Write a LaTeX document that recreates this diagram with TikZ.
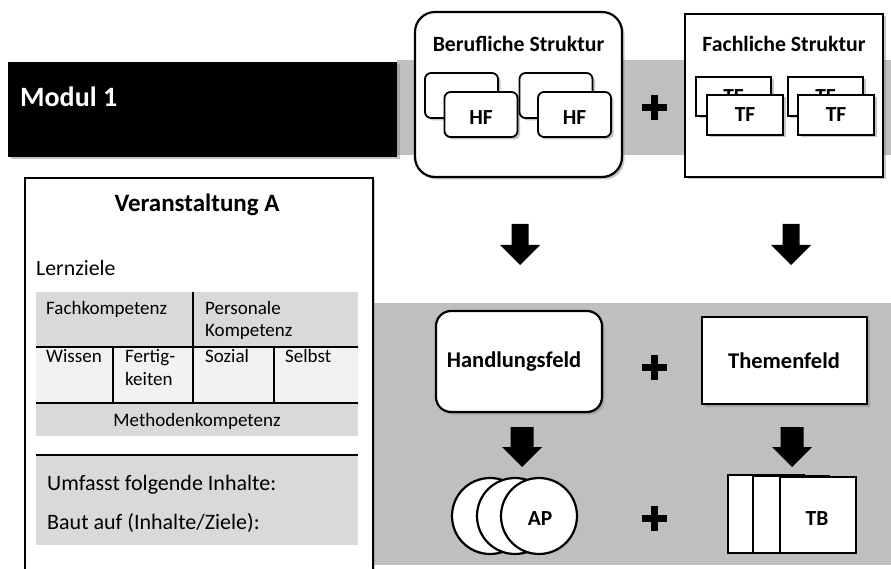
\documentclass[tikz,border=0pt]{standalone}
\usepackage{fontspec}
\setmainfont{Carlito}
\usetikzlibrary{shadows}
\definecolor{bandgray}{HTML}{BFBFBF}
\definecolor{cellgray}{HTML}{D9D9D9}
\definecolor{celllight}{HTML}{F2F2F2}
% plus sign at a coordinate
\newcommand{\plusat}[1]{%
  \draw[line width=7pt] ([xshift=-12.5pt]#1) -- ([xshift=12.5pt]#1);
  \draw[line width=7pt] ([yshift=-12.5pt]#1) -- ([yshift=12.5pt]#1);}
% block arrow: top centre, half shaft width, shaft length
\newcommand{\blockarrow}[3]{%
  \fill ([xshift=-#2pt]#1) -- ++(2*#2,0) -- ++(0,#3) -- ++(20-#2,0)
    -- ++(-20,20) -- ++(-20,-20) -- ++(20-#2,0) -- cycle;}
\begin{document}
\begin{tikzpicture}[x=1pt, y=-1pt,
  shade/.style={drop shadow={opacity=.45, shadow xshift=2.5pt, shadow yshift=-2.5pt}},
  bigbox/.style={draw, line width=2.2pt, fill=white, shade},
  card/.style={draw, line width=1.8pt, fill=white, rounded corners=6pt, shade},
  tcard/.style={draw, line width=1.8pt, fill=white, shade},
  txt/.style={inner sep=0, anchor=base west, font=\fontsize{19}{22}\selectfont},
  bold/.style={inner sep=0, anchor=base, font=\fontsize{21.8}{25}\selectfont\bfseries},
  small/.style={font=\fontsize{21.5}{24}\selectfont\bfseries}]
\useasboundingbox (0,0) rectangle (891,569);
\clip (0,0) rectangle (891,569);
% grey bands
\fill[bandgray] (397,60) rectangle (891,155);
\fill[bandgray] (373,303) rectangle (891,565);
% Modul
\node[fill=black, minimum width=389, minimum height=95, shade] (modul) at (202.5,109.5) {};
\node[bold, anchor=base west, text=white, font=\fontsize{28}{31}\selectfont\bfseries] (modtxt) at (20,107) {Modul 1};
% Berufliche Struktur
\node[bigbox, rounded corners=20pt, minimum width=207, minimum height=165] (beruf) at (518.5,94.5) {};
\node[bold] (beruftxt) at (518.5,52) {Berufliche Struktur};
\node[card, minimum width=73, minimum height=45] (hfa) at (461.5,95.5) {};
\node[card, minimum width=73, minimum height=45] (hfb) at (481,114.5) {};
\node[bold, small] at (481,125) {HF};
\node[card, minimum width=73, minimum height=45] (hfc) at (556,95.5) {};
\node[card, minimum width=73, minimum height=45] (hfd) at (574.5,114.5) {};
\node[bold, small] at (574.5,125) {HF};
\coordinate (plusa) at (654,108);
\plusat{plusa}
% Fachliche Struktur
\node[bigbox, minimum width=198, minimum height=163] (fach) at (784,95.5) {};
\node[bold] (fachtxt) at (784,52) {Fachliche Struktur};
\node[tcard, small, minimum width=75, minimum height=39] (tfa) at (733.5,96.5) {TF};
\node[tcard, small, minimum width=76, minimum height=40] (tfb) at (745,115) {TF};
\node[tcard, small, minimum width=75, minimum height=39] (tfc) at (825.5,96.5) {TF};
\node[tcard, small, minimum width=76, minimum height=40] (tfd) at (836,115) {TF};
% arrows down
\coordinate (arra) at (520,224);
\coordinate (arrb) at (791,224);
\coordinate (arrc) at (522,427);
\coordinate (arrd) at (792,427);
\blockarrow{arra}{8.5}{21}
\blockarrow{arrb}{8.5}{21}
\blockarrow{arrc}{11.5}{20}
\blockarrow{arrd}{11.5}{20}
% Veranstaltung A
\node[draw, line width=1.8pt, fill=white, shade, minimum width=348, minimum height=423, anchor=north west] (veran) at (24,177) {};
\node[bold, font=\fontsize{25}{29}\selectfont\bfseries] (vertxt) at (197,211.5) {Veranstaltung A};
\node[txt, font=\fontsize{21.8}{25}\selectfont] (lern) at (36,276) {Lernziele};
\fill[cellgray] (36,292) rectangle (358,347);
\fill[celllight] (36,347) rectangle (358,403);
\fill[cellgray] (36,403) rectangle (358,436);
\draw[line width=1.5pt] (36,347) -- (358,347);
\draw[line width=1.5pt] (36,403) -- (358,403);
\draw[line width=1.5pt] (193,292) -- (193,403);
\draw[line width=1.5pt] (113,347) -- (113,403);
\draw[line width=1.5pt] (274,347) -- (274,403);
\node[txt] (fachk) at (46,314) {Fachkompetenz};
\node[txt] (pers) at (205,314) {Personale};
\node[txt] (pers2) at (205,336.5) {Kompetenz};
\node[txt] (wiss) at (46,362) {Wissen};
\node[txt] (fert) at (125,362) {Fertig-};
\node[txt] (fert2) at (125,385) {keiten};
\node[txt] (soz) at (205,362) {Sozial};
\node[txt] (selb) at (285,362) {Selbst};
\node[txt, anchor=base] (meth) at (197,426.5) {Methodenkompetenz};
\fill[cellgray] (36,455) rectangle (358,545);
\draw[line width=2pt] (36,455) -- (358,455);
\node[txt, font=\fontsize{22}{25}\selectfont] (umf) at (47,490) {Umfasst folgende Inhalte:};
\node[txt, font=\fontsize{22}{25}\selectfont] (baut) at (47,529) {Baut auf (Inhalte/Ziele):};
% Handlungsfeld / Themenfeld
\node[bigbox, rounded corners=15pt, minimum width=166, minimum height=101] (handl) at (519,361.5) {};
\node[bold, font=\fontsize{22.5}{26}\selectfont\bfseries] at (514,367) {Handlungsfeld};
\coordinate (plusb) at (654,367);
\plusat{plusb}
\node[bigbox, minimum width=165, minimum height=87] (themen) at (784.5,360.5) {};
\node[bold, font=\fontsize{22.5}{26}\selectfont\bfseries] at (784,368) {Themenfeld};
% AP and TB
\foreach \cx/\nm in {490/apa, 515/apb, 539/apc}
  \node[circle, draw, line width=2.2pt, fill=white, minimum size=76] (\nm) at (\cx,516) {};
\node[bold, small] at (540,525) {AP};
\coordinate (plusc) at (654,518);
\plusat{plusc}
\node[draw, line width=2.2pt, fill=white, minimum width=76, minimum height=78] (tba) at (766,514) {};
\node[draw, line width=2.2pt, fill=white, minimum width=76, minimum height=77] (tbb) at (791,514.5) {};
\node[draw, line width=2.2pt, fill=white, minimum width=76, minimum height=76] (tbc) at (818,515) {};
\node[bold, small] at (817,525) {TB};
\end{tikzpicture}
\end{document}
